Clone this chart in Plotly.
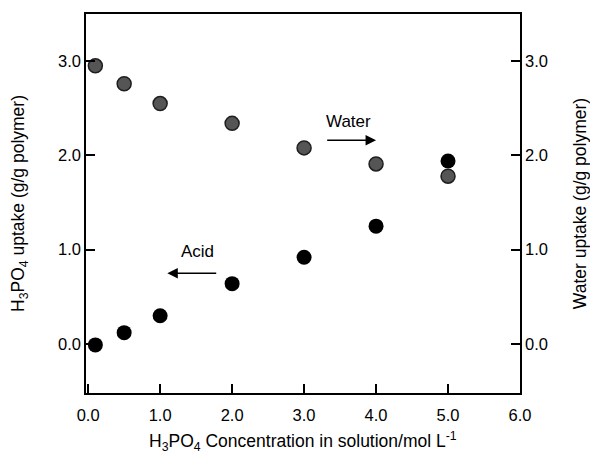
import plotly.graph_objects as go

conc = [0.1, 0.5, 1.0, 2.0, 3.0, 4.0, 5.0]
acid_uptake = [-0.01, 0.12, 0.30, 0.64, 0.92, 1.25, 1.94]
water_uptake = [2.95, 2.76, 2.55, 2.34, 2.08, 1.91, 1.78]

x_ticks = [0, 1, 2, 3, 4, 5, 6]
x_ticklabels = ["0.0", "1.0", "2.0", "3.0", "4.0", "5.0", "6.0"]
y_ticks = [0, 1, 2, 3]
y_ticklabels = ["0.0", "1.0", "2.0", "3.0"]

FONT = "Liberation Sans, Arial, sans-serif"

fig = go.Figure()
fig.add_trace(go.Scatter(
    x=conc, y=water_uptake, mode="markers", yaxis="y2", name="Water",
    marker=dict(size=14, color="#555555", line=dict(color="#1e1e1e", width=1.5)),
    showlegend=False, cliponaxis=False))
fig.add_trace(go.Scatter(
    x=conc, y=acid_uptake, mode="markers", name="Acid",
    marker=dict(size=15, color="#000000"),
    showlegend=False, cliponaxis=False))

axis_common = dict(showgrid=False, zeroline=False, showline=True, linecolor="black",
                   linewidth=1.5, ticks="inside", ticklen=9, tickwidth=1.5, automargin=False,
                   tickcolor="black", tickfont=dict(family=FONT, size=16.5, color="black"))

fig.update_layout(
    width=590, height=455,
    margin=dict(l=86, r=70, t=14, b=62),
    paper_bgcolor="white", plot_bgcolor="white",
    font=dict(family=FONT, size=16, color="black"),
    xaxis=dict(range=[-0.03, 6.0], tickvals=x_ticks, ticktext=x_ticklabels, mirror=True,
               ticklabelstandoff=6, **axis_common),
    yaxis=dict(range=[-0.52, 3.5], tickvals=y_ticks, ticktext=y_ticklabels,
               title=dict(text="H<sub>3</sub>PO<sub>4</sub> uptake (g/g polymer)",
                          font=dict(family=FONT, size=17.5), standoff=29),
               **axis_common),
    yaxis2=dict(range=[-0.52, 3.5], tickvals=y_ticks, ticktext=y_ticklabels,
                overlaying="y", side="right",
                title=dict(text="Water uptake (g/g polymer)",
                           font=dict(family=FONT, size=17.5), standoff=27),
                **axis_common),
)

# x-axis title placed as a paper annotation so it sits at the reference height
fig.add_annotation(x=0.5, y=-0.127, xref="paper", yref="paper", xanchor="center", yanchor="middle",
                   text="H<sub>3</sub>PO<sub>4</sub> Concentration in solution/mol L<sup>-1</sup>",
                   showarrow=False, font=dict(family=FONT, size=17.5, color="black"))

fig.add_annotation(x=4.0, y=2.16, ax=3.3, ay=2.16, xref="x", yref="y", axref="x", ayref="y",
                   showarrow=True, arrowhead=2, arrowsize=1.4, arrowwidth=1.5, arrowcolor="black", text="")
fig.add_annotation(x=3.62, y=2.36, xref="x", yref="y", text="Water", showarrow=False,
                   font=dict(family=FONT, size=17, color="black"))
fig.add_annotation(x=1.1, y=0.75, ax=1.8, ay=0.75, xref="x", yref="y", axref="x", ayref="y",
                   showarrow=True, arrowhead=2, arrowsize=1.4, arrowwidth=1.5, arrowcolor="black", text="")
fig.add_annotation(x=1.52, y=0.98, xref="x", yref="y", text="Acid", showarrow=False,
                   font=dict(family=FONT, size=17, color="black"))

fig.write_html("out.html")
